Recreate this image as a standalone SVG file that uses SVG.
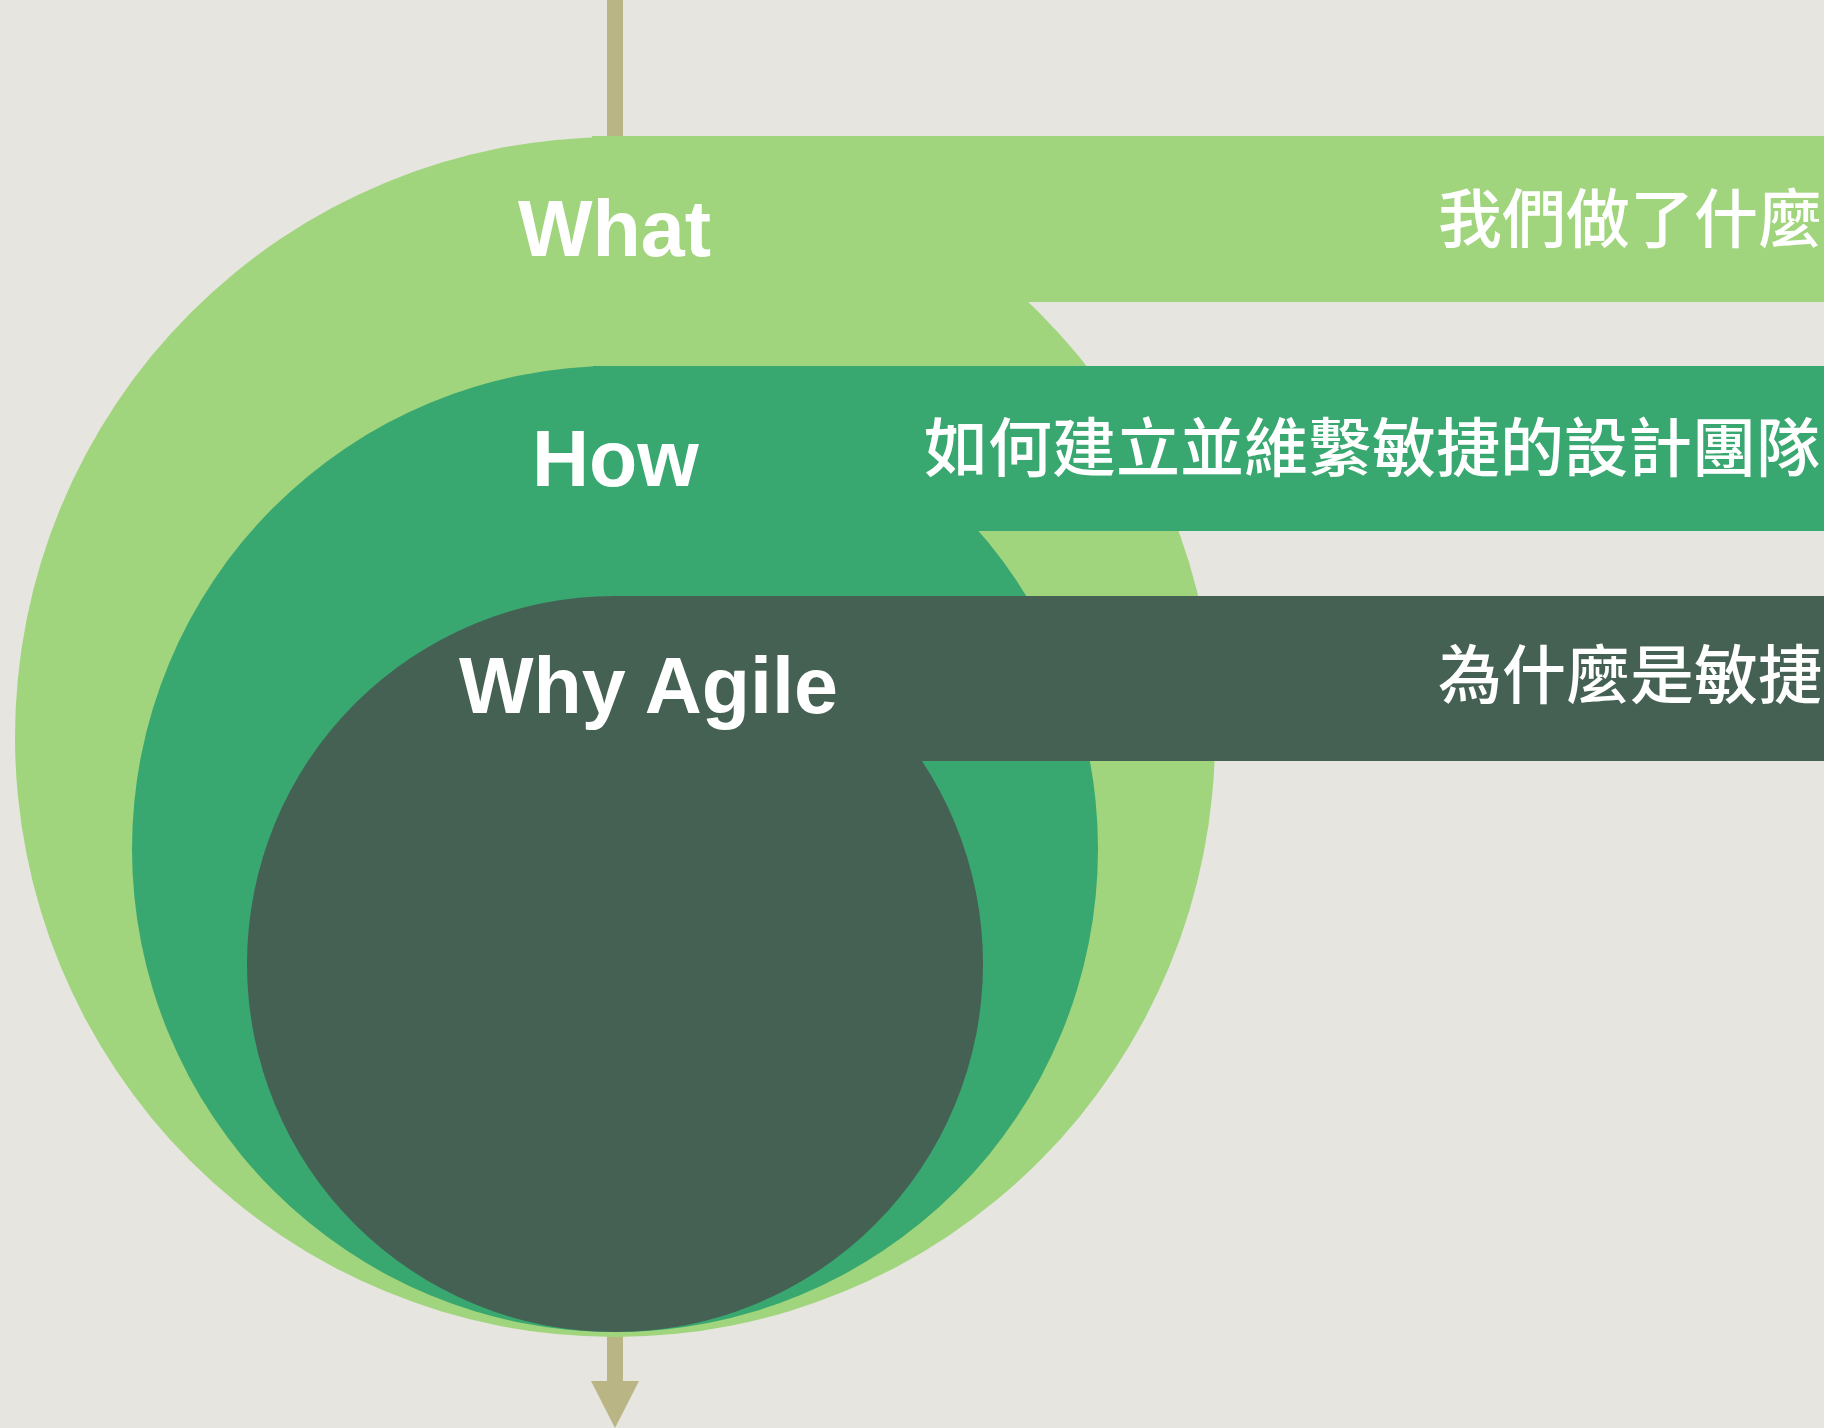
<svg xmlns="http://www.w3.org/2000/svg" width="1824" height="1428" viewBox="0 0 1824 1428">
<style>
.en{font-family:"Liberation Sans",Arial,sans-serif;font-weight:bold;font-size:79px;fill:#FFFFFF}
.zh{font-family:"Noto Sans CJK TC","Noto Sans CJK SC",sans-serif;font-weight:500;font-size:64px;fill:#FFFFFF}
.l1{fill:#A1D57D}.l2{fill:#38A870}.l3{fill:#456153}
</style>
<rect width="1824" height="1428" fill="#E6E5E0"/>
<g id="connectors">
<rect x="607" y="0" width="16" height="1385" fill="#BAB585"/>
<polygon points="591,1381 639,1381 615,1428" fill="#BAB585"/>
</g>
<g id="what">
<circle class="l1" cx="615" cy="737" r="600"/>
<rect class="l1" x="592" y="136" width="1232" height="166"/>
<text class="en" x="518" y="256">What</text>
<text class="zh" x="1438" y="242">我們做了什麼</text>
</g>
<g id="how">
<circle class="l2" cx="615" cy="849" r="483"/>
<rect class="l2" x="593" y="366" width="1231" height="165"/>
<text class="en" x="532" y="486">How</text>
<text class="zh" x="924" y="471">如何建立並維繫敏捷的設計團隊</text>
</g>
<g id="why">
<circle class="l3" cx="615" cy="964" r="368"/>
<rect class="l3" x="612" y="596" width="1212" height="165"/>
<text class="en" x="459" y="713" font-size="80">Why Agile</text>
<text class="zh" x="1438" y="698">為什麼是敏捷</text>
</g>
</svg>
